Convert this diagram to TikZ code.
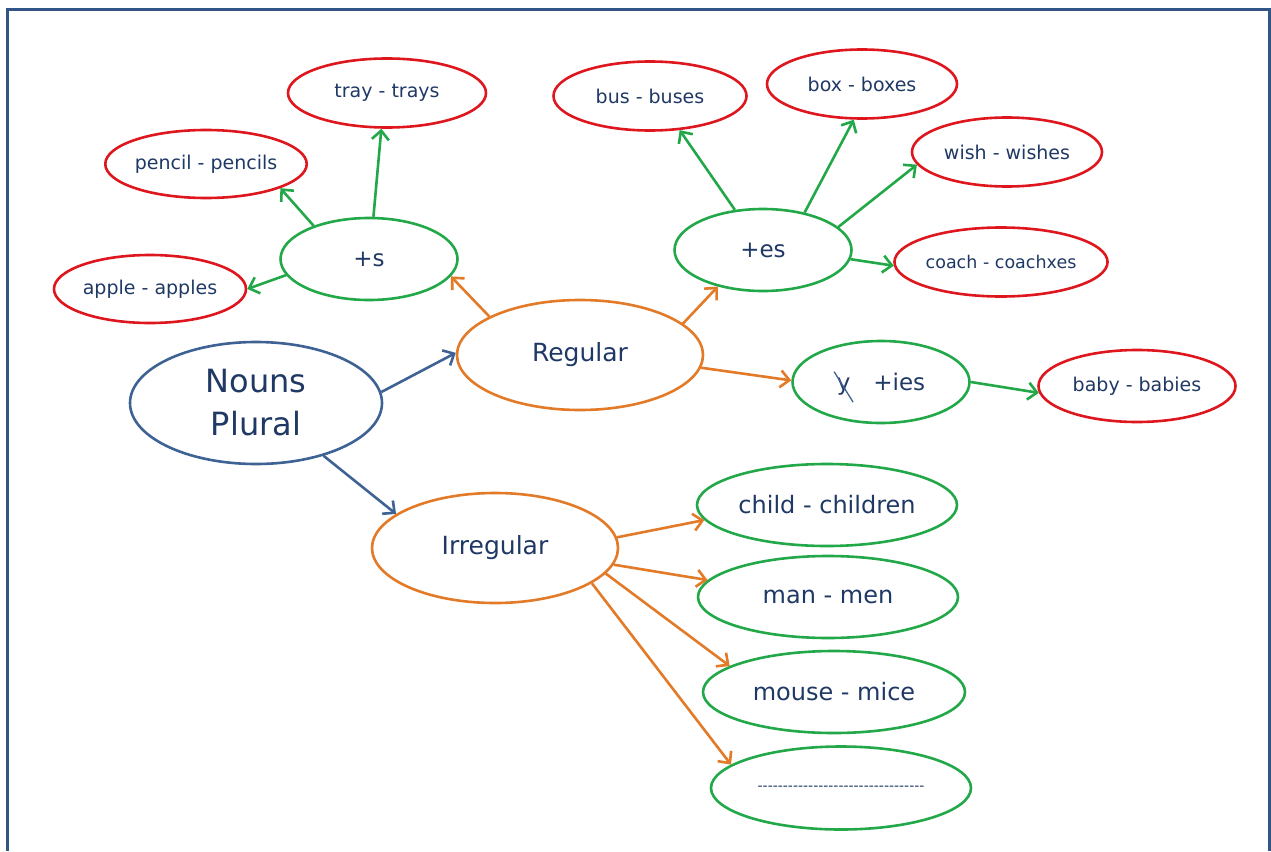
\documentclass[tikz,border=0pt]{standalone}
\usepackage{fontspec}
\setmainfont{DejaVu Sans}
\usetikzlibrary{arrows.meta,shapes}

\definecolor{inkblue}{RGB}{31,56,100}
\definecolor{rootblue}{RGB}{62,98,148}
\definecolor{frameblue}{RGB}{50,85,135}
\definecolor{rulebrown}{RGB}{226,122,40}
\definecolor{rulegreen}{RGB}{34,168,72}
\definecolor{wordred}{RGB}{222,22,30}

% y struck through for the +ies rule
\newcommand\crossedy{\ooalign{y\cr\hidewidth\smash{\raisebox{3pt}{\rotatebox[origin=c]{-58}{\textcolor{rootblue}{\rule{36pt}{1.3pt}}}}}\hidewidth\cr}}

\tikzset{
    bubble/.style={ellipse, draw, line width=2.6pt, inner sep=0pt, text=inkblue, align=center},
    rootbub/.style={bubble, draw=rootblue, minimum width=252pt, minimum height=122pt, font=\fontsize{32}{43}\selectfont},
    kindbub/.style={bubble, draw=rulebrown, minimum width=246pt, minimum height=110pt, font=\fontsize{25}{30}\selectfont},
    rulebub/.style={bubble, draw=rulegreen, minimum width=177pt, minimum height=82pt, font=\fontsize{23}{28}\selectfont},
    wordbub/.style={bubble, draw=wordred, minimum width=194pt, minimum height=69pt, font=\fontsize{19}{22}\selectfont},
    oddbub/.style={bubble, draw=rulegreen, minimum width=260pt, minimum height=82pt, font=\fontsize{24}{28}\selectfont},
    link/.style={line width=2.6pt, -{Straight Barb[length=9pt,width=17pt,line width=2.6pt]}},
    bluelink/.style={link, draw=rootblue},
    brownlink/.style={link, draw=rulebrown},
    greenlink/.style={link, draw=rulegreen}
}

\begin{document}
\begin{tikzpicture}[x=1pt,y=-1pt]
    \useasboundingbox (0,0) rectangle (1271,851);
    \draw[frameblue, line width=3pt] (7.5,851) -- (7.5,10) -- (1269,10) -- (1269,851);

    % main branches
    \node[rootbub] (nouns) at (256,403) {Nouns\\Plural};
    \node[kindbub] (regular) at (580,355) {Regular};
    \node[kindbub] (irregular) at (495,548) {Irregular};

    % regular rules
    \node[rulebub] (plus-s) at (369,259) {+s};
    \node[rulebub] (plus-es) at (763,250) {+es};
    \node[rulebub] (plus-ies) at (881,382) {\crossedy\quad+ies};

    % words with +s
    \node[wordbub, minimum width=198pt] (tray) at (387,93) {tray - trays};
    \node[wordbub, minimum width=200pt, minimum height=68pt] (pencil) at (206,164) {pencil - pencils};
    \node[wordbub, minimum width=192pt, minimum height=68pt] (apple) at (150,289) {apple - apples};

    % words with +es
    \node[wordbub, minimum width=193pt] (bus) at (650,96) {bus - buses};
    \node[wordbub, minimum width=190pt] (box) at (862,84) {box - boxes};
    \node[wordbub, minimum width=190pt] (wish) at (1007,152) {wish - wishes};
    \node[wordbub, minimum width=198pt, font=\fontsize{17.5}{21}\selectfont] (coach) at (1001,262) {coach - coachxes};

    % words with +ies
    \node[wordbub, minimum width=197pt, minimum height=72pt] (baby) at (1137,386) {baby - babies};

    % irregular words
    \node[oddbub] (child) at (827,505) {child - children};
    \node[oddbub] (man) at (828,597) {man - men};
    \node[oddbub, minimum width=262pt] (mouse) at (834,692) {mouse - mice};
    \node[oddbub, minimum height=83pt, font=\fontsize{14}{16}\selectfont] (blank) at (841,788)
        {-{}-{}-{}-{}-{}-{}-{}-{}-{}-{}-{}-{}-{}-{}-{}-{}-{}-{}-{}-{}-{}-{}-{}-{}-{}-{}-{}-{}-{}-{}-{}-{}-{}};

    \draw[bluelink] (nouns.5) -- (regular.179);
    \draw[bluelink] (nouns.-38) -- (irregular.161);

    \draw[brownlink] (regular.157) -- (plus-s.-12);
    \draw[brownlink] (regular.17) -- (plus-es.219);
    \draw[brownlink] (regular.-6) -- (plus-ies.179);

    \draw[greenlink] (plus-s.191) -- (apple.0);
    \draw[greenlink] (plus-s.149) -- (pencil.-18);
    \draw[greenlink] (plus-s.84) -- (tray.261);

    \draw[greenlink] (plus-es.125) -- (bus.-49);
    \draw[greenlink] (plus-es.42) -- (box.257);
    \draw[greenlink] (plus-es.17) -- (wish.188);
    \draw[greenlink] (plus-es.-6) -- (coach.182);

    \draw[greenlink] (plus-ies.0) -- (baby.184);

    \draw[brownlink] (irregular.5) -- (child.187);
    \draw[brownlink] (irregular.-8) -- (man.172);
    \draw[brownlink] (irregular.-13) -- (mouse.166);
    \draw[brownlink] (irregular.-20) -- (blank.168);
\end{tikzpicture}
\end{document}
